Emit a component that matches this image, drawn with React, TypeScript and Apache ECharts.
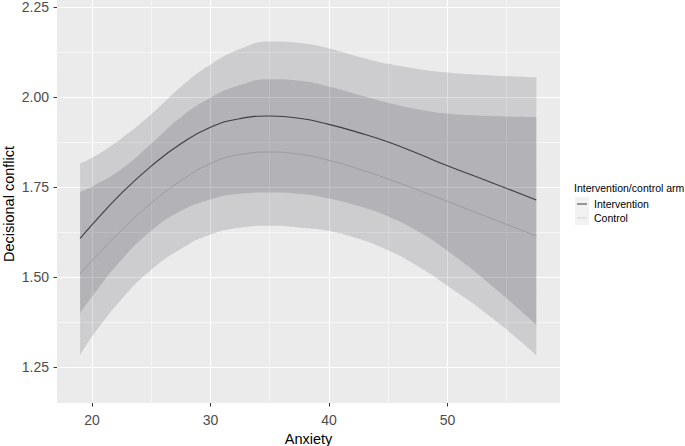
import React, { useEffect, useRef } from "react";
import * as echarts from "echarts";

const anxiety = [19, 20, 22.5, 25, 27.5, 30, 32.5, 35, 37.5, 40, 42.5, 45, 47.5, 50, 53.75, 57.5];

const interventionFit = [1.607, 1.645, 1.733, 1.808, 1.870, 1.916, 1.940, 1.947, 1.941, 1.924, 1.901, 1.875, 1.843, 1.809, 1.762, 1.714];
const interventionUpper = [1.816, 1.831, 1.885, 1.952, 2.028, 2.090, 2.133, 2.154, 2.150, 2.135, 2.112, 2.092, 2.078, 2.068, 2.060, 2.055];
const interventionLower = [1.399, 1.445, 1.548, 1.628, 1.683, 1.715, 1.731, 1.735, 1.731, 1.718, 1.697, 1.668, 1.627, 1.573, 1.476, 1.367];

const controlFit = [1.508, 1.545, 1.630, 1.705, 1.767, 1.815, 1.840, 1.847, 1.841, 1.824, 1.800, 1.772, 1.742, 1.710, 1.662, 1.614];
const controlUpper = [1.737, 1.751, 1.800, 1.870, 1.944, 1.998, 2.033, 2.049, 2.045, 2.029, 2.006, 1.984, 1.966, 1.954, 1.947, 1.944];
const controlLower = [1.283, 1.334, 1.438, 1.520, 1.578, 1.618, 1.637, 1.642, 1.637, 1.628, 1.606, 1.574, 1.530, 1.476, 1.387, 1.283];

const xMajor = [20, 30, 40, 50];
const xMinor = [25, 35, 45, 55];
const yMajor = [1.25, 1.5, 1.75, 2.0, 2.25];
const yMinor = [1.375, 1.625, 1.875, 2.125];

const xTitle = "Anxiety";
const yTitle = "Decisional conflict";
const legendTitle = "Intervention/control arm";
const legendLabels = ["Intervention", "Control"];

const FONT = "Liberation Sans, Arial, Helvetica, sans-serif";
const SMOOTH = 0.5;

export default function App() {
  const ref = useRef<HTMLDivElement>(null);

  useEffect(() => {
    if (!ref.current) return;
    const chart = echarts.init(ref.current, null, { renderer: "svg" });

    const pairs = (ys: number[]) => anxiety.map((x, i) => [x, ys[i]]);
    // value first so that the stack is applied to the y dimension
    const yxPairs = (ys: number[]) => anxiety.map((x, i) => [ys[i], x]);
    const yxDiffs = (hi: number[], lo: number[]) => anxiety.map((x, i) => [hi[i] - lo[i], x]);

    const ribbonFill = "rgba(8,8,20,0.13)";

    const ribbon = (key: string, lo: number[], hi: number[]) => [
      {
        type: "line",
        name: key + "-lo",
        stack: key,
        data: yxPairs(lo),
        encode: { x: 1, y: 0 },
        smooth: SMOOTH,
        showSymbol: false,
        symbol: "none",
        lineStyle: { opacity: 0, width: 0 },
        silent: true,
        z: 2,
      },
      {
        type: "line",
        name: key + "-band",
        stack: key,
        data: yxDiffs(hi, lo),
        encode: { x: 1, y: 0 },
        smooth: SMOOTH,
        showSymbol: false,
        symbol: "none",
        lineStyle: { opacity: 0, width: 0 },
        areaStyle: { color: ribbonFill, opacity: 1 },
        silent: true,
        z: 2,
      },
    ];

    const tickLabel = { color: "#4D4D4D", fontSize: 14, fontFamily: FONT };

    const option: any = {
      animation: false,
      backgroundColor: "#ffffff",
      grid: {
        left: 57,
        top: 0,
        right: 125,
        bottom: 43,
        containLabel: false,
        outerBoundsMode: "none",
        show: true,
        backgroundColor: "#EBEBEB",
        borderWidth: 0,
      },
      xAxis: [
        {
          type: "value",
          min: 17.05,
          max: 59.5,
          position: "bottom",
          axisLine: { show: false },
          axisTick: { show: true, length: 3.5, lineStyle: { color: "#333333", width: 1 }, customValues: xMajor },
          axisLabel: { ...tickLabel, margin: 10, customValues: xMajor },
          splitLine: { show: true, lineStyle: { color: "#ffffff", width: 1.1 } },
          name: xTitle,
          nameLocation: "middle",
          nameGap: 27,
          nameTextStyle: { color: "#000000", fontSize: 14.5, fontFamily: FONT },
        },
        {
          type: "value",
          min: 17.05,
          max: 59.5,
          position: "bottom",
          axisLine: { show: false },
          axisTick: { show: false, customValues: xMinor },
          axisLabel: { show: false, customValues: xMinor },
          splitLine: { show: true, lineStyle: { color: "#ffffff", width: 0.55 } },
        },
      ],
      yAxis: [
        {
          type: "value",
          min: 1.15,
          max: 2.2694,
          position: "left",
          axisLine: { show: false },
          axisTick: { show: true, length: 3.5, lineStyle: { color: "#333333", width: 1 }, customValues: yMajor },
          axisLabel: { ...tickLabel, margin: 8, customValues: yMajor, formatter: (v: number) => v.toFixed(2) },
          splitLine: { show: true, lineStyle: { color: "#ffffff", width: 1.1 } },
        },
        {
          type: "value",
          min: 1.15,
          max: 2.2694,
          position: "left",
          axisLine: { show: false },
          axisTick: { show: false, customValues: yMinor },
          axisLabel: { show: false, customValues: yMinor },
          splitLine: { show: true, lineStyle: { color: "#ffffff", width: 0.55 } },
        },
      ],
      series: [
        ...ribbon("control", controlLower, controlUpper),
        ...ribbon("intervention", interventionLower, interventionUpper),
        {
          type: "line",
          name: legendLabels[1],
          data: pairs(controlFit),
          smooth: SMOOTH,
          showSymbol: false,
          symbol: "none",
          lineStyle: { color: "#9A9A9C", width: 0.9 },
          z: 4,
        },
        {
          type: "line",
          name: legendLabels[0],
          data: pairs(interventionFit),
          smooth: SMOOTH,
          showSymbol: false,
          symbol: "none",
          lineStyle: { color: "#3E3E40", width: 1.1 },
          z: 5,
        },
      ],
      graphic: [
        {
          type: "text",
          x: 8.5,
          y: 204,
          rotation: Math.PI / 2,
          style: {
            text: yTitle,
            fill: "#000000",
            fontSize: 14.5,
            fontFamily: FONT,
            align: "center",
            verticalAlign: "middle",
          },
        },
        {
          type: "text",
          left: 574,
          top: 182,
          style: { text: legendTitle, fill: "#000000", fontSize: 10.5, fontFamily: FONT },
        },
        { type: "rect", shape: { x: 575, y: 197, width: 14, height: 14 }, style: { fill: "#F2F2F2" } },
        { type: "rect", shape: { x: 575, y: 211, width: 14, height: 14 }, style: { fill: "#F2F2F2" } },
        { type: "line", shape: { x1: 577, y1: 204, x2: 587, y2: 204 }, style: { stroke: "#4A4A4A", lineWidth: 1.1 } },
        { type: "line", shape: { x1: 577, y1: 218, x2: 587, y2: 218 }, style: { stroke: "#D6D6D6", lineWidth: 1.1 } },
        {
          type: "text",
          left: 594,
          top: 198,
          style: { text: legendLabels[0], fill: "#000000", fontSize: 10.5, fontFamily: FONT },
        },
        {
          type: "text",
          left: 594,
          top: 212,
          style: { text: legendLabels[1], fill: "#000000", fontSize: 10.5, fontFamily: FONT },
        },
      ],
    };

    chart.setOption(option);
    return () => chart.dispose();
  }, []);

  return (
    <div
      ref={ref}
      style={{ position: "fixed", left: 0, top: 0, width: 685, height: 446, background: "#ffffff" }}
    />
  );
}
